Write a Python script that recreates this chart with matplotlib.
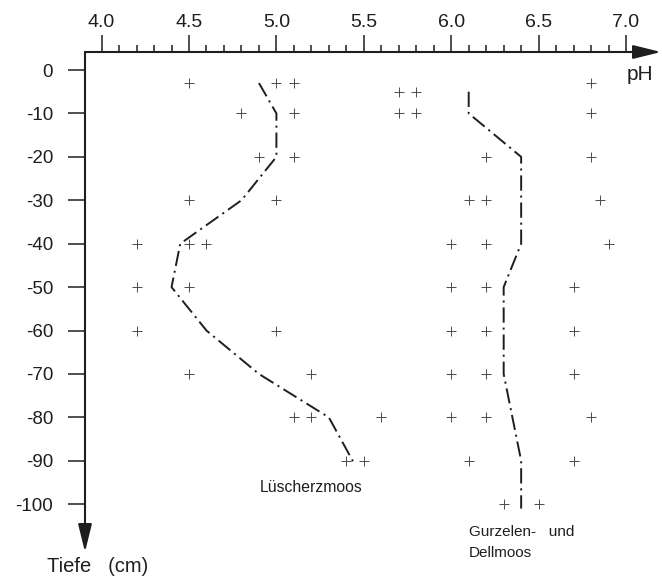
import numpy as np
import matplotlib
matplotlib.use('Agg')
import matplotlib.pyplot as plt

plt.rcParams['font.family'] = ['Liberation Sans', 'DejaVu Sans']
plt.rcParams['lines.scale_dashes'] = False

# Lüscherzmoos: single measurements (depth cm, pH)
lus_depth = [-3, -3, -3, -10, -10, -20, -20, -30, -30, -40, -40, -40,
             -50, -50, -60, -60, -70, -70, -80, -80, -80, -90, -90]
lus_ph = [4.5, 5.0, 5.1, 4.8, 5.1, 4.9, 5.1, 4.5, 5.0, 4.2, 4.5, 4.6,
          4.2, 4.5, 4.2, 5.0, 4.5, 5.2, 5.1, 5.2, 5.6, 5.4, 5.5]
# Lüscherzmoos: mean curve
lus_mean_depth = [-3, -10, -20, -30, -40, -50, -60, -70, -80, -91]
lus_mean_ph = [4.9, 5.0, 5.0, 4.8, 4.45, 4.4, 4.6, 4.9, 5.3, 5.45]

# Gurzelen- und Dellmoos: single measurements
gur_depth = [-3, -5, -5, -10, -10, -10, -20, -20, -30, -30, -30,
             -40, -40, -40, -50, -50, -50, -60, -60, -60, -70, -70, -70,
             -80, -80, -80, -90, -90, -100, -100]
gur_ph = [6.8, 5.7, 5.8, 5.7, 5.8, 6.8, 6.2, 6.8, 6.1, 6.2, 6.85,
          6.0, 6.2, 6.9, 6.0, 6.2, 6.7, 6.0, 6.2, 6.7, 6.0, 6.2, 6.7,
          6.0, 6.2, 6.8, 6.1, 6.7, 6.3, 6.5]
# Gurzelen- und Dellmoos: mean curve
gur_mean_depth = [-5, -10, -20, -40, -50, -70, -86, -90, -101]
gur_mean_ph = [6.1, 6.1, 6.4, 6.4, 6.3, 6.3, 6.38, 6.4, 6.4]

major_ph = [4.0, 4.5, 5.0, 5.5, 6.0, 6.5, 7.0]
minor_ph = [round(4.0 + 0.1 * i, 1) for i in range(1, 30)]
depth_ticks = list(range(0, -101, -10))
depth_labels = ['0'] + [f'-{d}' for d in range(10, 101, 10)]

ink = '#1e1e1e'

fig = plt.figure(figsize=(6.62, 5.77), dpi=100)
ax = fig.add_axes([85 / 662, 1 - 552 / 577, 576 / 662, 500 / 577])
ax.set_xlim(3.905, 7.2)
ax.set_ylim(-111, 4.15)

ax.plot(lus_ph, lus_depth, '+', color='#4a4a4a', ms=7, mew=0.7)
ax.plot(gur_ph, gur_depth, '+', color='#4a4a4a', ms=7, mew=0.7)

dd = [11, 3.5, 1.5, 3.5]
ax.plot(lus_mean_ph, lus_mean_depth, color=ink, lw=1.4, dashes=dd)
ax.plot(gur_mean_ph, gur_mean_depth, color=ink, lw=1.4, dashes=dd)

for s in ['top', 'left', 'right', 'bottom']:
    ax.spines[s].set_visible(False)

ax.xaxis.tick_top()
ax.set_xticks(major_ph)
ax.set_xticklabels([f'{v:.1f}' for v in major_ph])
ax.set_xticks(minor_ph, minor=True)
ax.set_yticks(depth_ticks)
ax.set_yticklabels(depth_labels)
ax.tick_params(axis='x', which='major', direction='out', length=12.2,
               width=1.1, color=ink, labelsize=14, labelcolor=ink, pad=3)
ax.tick_params(axis='x', which='minor', direction='out', length=5,
               width=1.1, color=ink)
ax.tick_params(axis='y', direction='out', length=12, width=1.1, color=ink,
               labelsize=13.5, labelcolor=ink, pad=11)

arrow = dict(arrowstyle='-|>,head_length=1.7,head_width=0.42',
             mutation_scale=10, color=ink, lw=1.5, shrinkA=0, shrinkB=0)
ax.annotate('', xy=(1.0, 1.0), xytext=(0, 1.0), xycoords='axes fraction',
            textcoords='axes fraction', arrowprops=arrow, annotation_clip=False)
ax.annotate('', xy=(0, 0.0), xytext=(0, 1.0), xycoords='axes fraction',
            textcoords='axes fraction', arrowprops=arrow, annotation_clip=False)

ax.text(5.2, -96.2, 'Lüscherzmoos', fontsize=11.3, color=ink,
        ha='center', va='center')
ax.text(6.1, -106.5, 'Gurzelen-   und', fontsize=11, color=ink,
        ha='left', va='center', clip_on=False)
ax.text(6.1, -111.2, 'Dellmoos', fontsize=11, color=ink,
        ha='left', va='center', clip_on=False)

fig.text(627 / 662, 1 - 75 / 577, 'pH', fontsize=15, color=ink,
         ha='left', va='center')
fig.text(47 / 662, 1 - 567 / 577, 'Tiefe   (cm)', fontsize=14.5, color=ink,
         ha='left', va='center')

fig.savefig('out.png', dpi=100)
